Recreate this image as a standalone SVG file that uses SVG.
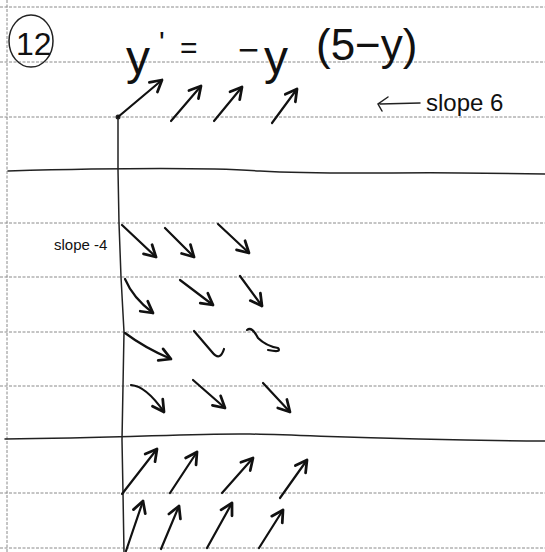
<svg xmlns="http://www.w3.org/2000/svg" width="545" height="552" viewBox="0 0 545 552">
<defs>
<style>
.rule{stroke:#8a8a8a;stroke-width:1;stroke-dasharray:3 1.5;fill:none}
.ink{stroke:#111;stroke-width:2.2;fill:none;stroke-linecap:round;stroke-linejoin:round}
.thin{stroke:#222;stroke-width:1.5;fill:none;stroke-linecap:round}
.hand{font-family:"Liberation Sans","DejaVu Sans",sans-serif;fill:#111}
</style>
<marker id="ah" markerUnits="userSpaceOnUse" markerWidth="20" markerHeight="20" refX="0" refY="0" viewBox="-12 -8 14 16" orient="auto">
<path d="M -9 -5 L 0 0 L -9 5" stroke="#111" stroke-width="2.2" fill="none" stroke-linecap="round" stroke-linejoin="round"/>
</marker>
</defs>
<rect width="545" height="552" fill="#fff"/>
<g id="paper">
<line class="rule" x1="0" y1="7" x2="545" y2="7"/>
<line class="rule" x1="0" y1="62" x2="545" y2="62"/>
<line class="rule" x1="0" y1="117" x2="545" y2="117"/>
<line class="rule" x1="0" y1="223" x2="545" y2="223"/>
<line class="rule" x1="0" y1="277" x2="545" y2="277"/>
<line class="rule" x1="0" y1="332" x2="545" y2="332"/>
<line class="rule" x1="0" y1="386" x2="545" y2="386"/>
<line class="rule" x1="0" y1="493" x2="545" y2="493"/>
<line class="rule" x1="0" y1="548" x2="545" y2="548"/>
<line class="rule" x1="7" y1="0" x2="7" y2="552"/>
</g>
<g id="equilibria">
<path class="thin" d="M 8 171 C 120 168 200 167 260 171 C 330 175 400 172 460 173 L 545 174"/>
<path class="thin" d="M 5 439 C 120 438 200 433 250 434 C 330 436 400 440 545 441"/>
</g>
<g id="axis">
<path class="thin" d="M 118 117 L 118 170 L 119 223 L 121 277 L 124 332 L 123 386 L 122 440 L 123 493 L 124 552"/>
<circle cx="118" cy="117" r="2.5" fill="#222"/>
</g>
<g id="title">
<ellipse cx="31" cy="41" rx="22" ry="26" class="thin"/>
<text class="hand" x="16" y="55" font-size="32">12</text>
<text class="hand" font-size="48"><tspan x="126" y="74">y</tspan><tspan x="159" y="52" font-size="30">'</tspan><tspan x="180" y="58" font-size="30">=</tspan><tspan x="238" y="62" font-size="36">−</tspan><tspan x="264" y="74">y</tspan><tspan x="316" y="60" font-size="44">(5−y)</tspan></text>
</g>
<g id="labels">
<path class="thin" d="M 420 103 L 380 104 M 388 97 L 378 104 L 382 111"/>
<text class="hand" x="426" y="111" font-size="24">slope 6</text>
<text class="hand" x="54" y="250" font-size="15">slope -4</text>
</g>
<g id="connectors">
<path class="ink" marker-end="url(#ah)" d="M 118 117 L 162 80"/>
<path class="ink" marker-end="url(#ah)" d="M 171 121 L 201 86"/>
<path class="ink" marker-end="url(#ah)" d="M 214 121 L 242 87"/>
<path class="ink" marker-end="url(#ah)" d="M 272 123 L 297 89"/>

<path class="ink" marker-end="url(#ah)" d="M 122 225 L 156 257"/>
<path class="ink" marker-end="url(#ah)" d="M 165 228 L 194 257"/>
<path class="ink" marker-end="url(#ah)" d="M 218 224 L 249 253"/>

<path class="ink" marker-end="url(#ah)" d="M 125 279 Q 133 298 153 313"/>
<path class="ink" marker-end="url(#ah)" d="M 180 280 L 213 305"/>
<path class="ink" marker-end="url(#ah)" d="M 240 276 L 262 306"/>

<path class="ink" marker-end="url(#ah)" d="M 125 333 Q 145 348 171 359"/>
<path class="ink" d="M 194 331 L 212 352 Q 220 362 224 349"/>
<path class="ink" d="M 247 330 Q 252 326 258 338 Q 266 346 278 348 Q 282 353 268 350"/>

<path class="ink" marker-end="url(#ah)" d="M 131 385 Q 146 386 164 412"/>
<path class="ink" marker-end="url(#ah)" d="M 193 380 L 225 408"/>
<path class="ink" marker-end="url(#ah)" d="M 263 383 L 290 412"/>

<path class="ink" marker-end="url(#ah)" d="M 122 494 L 157 449"/>
<path class="ink" marker-end="url(#ah)" d="M 170 493 L 197 452"/>
<path class="ink" marker-end="url(#ah)" d="M 222 493 L 253 458"/>
<path class="ink" marker-end="url(#ah)" d="M 280 498 L 307 460"/>

<path class="ink" marker-end="url(#ah)" d="M 126 551 L 143 501"/>
<path class="ink" marker-end="url(#ah)" d="M 161 549 L 179 506"/>
<path class="ink" marker-end="url(#ah)" d="M 207 548 L 232 503"/>
<path class="ink" marker-end="url(#ah)" d="M 259 548 L 283 510"/>
</g>
</svg>
